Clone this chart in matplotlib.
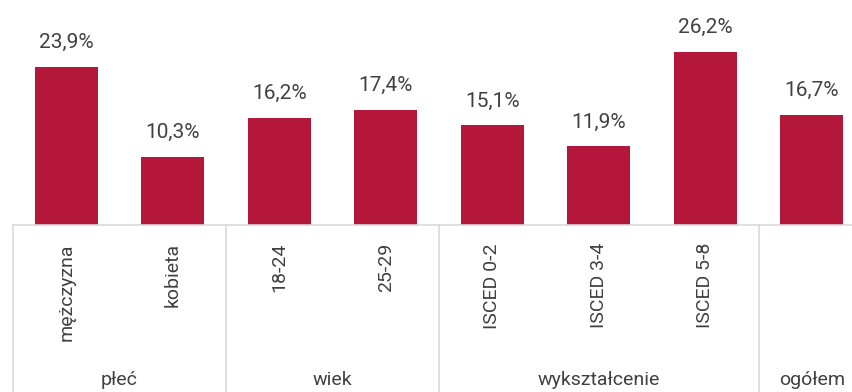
import matplotlib
matplotlib.use("Agg")
import matplotlib.pyplot as plt

plt.rcParams['font.family'] = ['Roboto', 'DejaVu Sans']

categories = ['mężczyzna', 'kobieta', '18-24', '25-29',
              'ISCED 0-2', 'ISCED 3-4', 'ISCED 5-8', '']
values = [23.9, 10.3, 16.2, 17.4, 15.1, 11.9, 26.2, 16.7]
groups = ['płeć', 'wiek', 'wykształcenie', 'ogółem']
group_sizes = [2, 2, 3, 1]

bar_color = '#B5173A'
text_color = '#404040'
line_color = '#D9D9D9'

W, H = 852, 392
fig = plt.figure(figsize=(W / 100, H / 100), dpi=100)
# axes spans 8 slots of 106.5 px from x=13; baseline at y=225 px
ax = fig.add_axes([13 / W, (H - 225) / H, 852 / W, 225 / H])

x = list(range(len(values)))
ax.bar(x, values, width=0.59, color=bar_color)
ax.set_xlim(-0.5, len(values) - 0.5)
ax.set_ylim(0, 34.05)
ax.axis('off')

for xi, v in zip(x, values):
    ax.annotate(f'{v:.1f}%'.replace('.', ','), (xi, v), xytext=(0, 13.5),
                textcoords='offset points', ha='center', va='baseline',
                fontsize=15, color=text_color)

# baseline across the whole plot
ax.plot([-0.5, len(values) - 0.5], [0, 0], color=line_color, lw=1.2,
        clip_on=False)

# category labels, rotated under each bar
for xi, lab in zip(x, categories):
    ax.annotate(lab, (xi, 0), xytext=(0, -13), textcoords='offset points',
                rotation=90, ha='center', va='top', fontsize=14,
                color=text_color)

# group separators and group names
start = 0
for name, n in zip(groups, group_sizes):
    left = start - 0.5
    ax.plot([left, left], [0, -1], color=line_color, lw=1.2, clip_on=False,
            transform=ax.get_xaxis_transform())
    mid = start + (n - 1) / 2
    ax.annotate(name, (mid, 0), xytext=(0, -115), textcoords='offset points',
                ha='center', va='baseline', fontsize=14, color=text_color,
                annotation_clip=False)
    start += n

fig.savefig('out.png', dpi=100)
